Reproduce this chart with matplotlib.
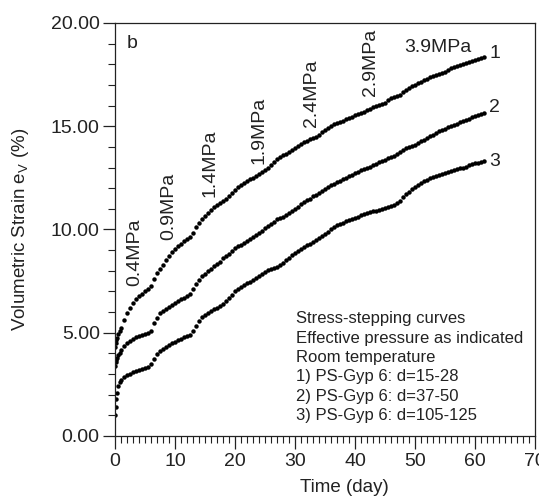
import matplotlib
matplotlib.use('Agg')
import matplotlib.pyplot as plt
from matplotlib.ticker import MultipleLocator, FormatStrFormatter

plt.rcParams['font.family'] = ['Liberation Sans', 'DejaVu Sans']

# sampling times (day)
days = [0, 0.1, 0.2, 0.3, 0.5, 0.75,
        1.0, 1.5, 2.0, 2.5, 3.0, 3.5, 4.0, 4.5, 5.0, 5.5,
        6.0, 6.5, 7.0, 7.5, 8.0, 8.5, 9.0, 9.5, 10.0, 10.5,
        11.0, 11.5, 12.0, 12.5, 13.0, 13.5, 14.0, 14.5, 15.0, 15.5,
        16.0, 16.5, 17.0, 17.5, 18.0, 18.5, 19.0, 19.5, 20.0, 20.5,
        21.0, 21.5, 22.0, 22.5, 23.0, 23.5, 24.0, 24.5, 25.0, 25.5,
        26.0, 26.5, 27.0, 27.5, 28.0, 28.5, 29.0, 29.5, 30.0, 30.5,
        31.0, 31.5, 32.0, 32.5, 33.0, 33.5, 34.0, 34.5, 35.0, 35.5,
        36.0, 36.5, 37.0, 37.5, 38.0, 38.5, 39.0, 39.5, 40.0, 40.5,
        41.0, 41.5, 42.0, 42.5, 43.0, 43.5, 44.0, 44.5, 45.0, 45.5,
        46.0, 46.5, 47.0, 47.5, 48.0, 48.5, 49.0, 49.5, 50.0, 50.5,
        51.0, 51.5, 52.0, 52.5, 53.0, 53.5, 54.0, 54.5, 55.0, 55.5,
        56.0, 56.5, 57.0, 57.5, 58.0, 58.5, 59.0, 59.5, 60.0, 60.5,
        61.0, 61.5]

# 1) PS-Gyp 6: d=15-28
strain_1 = [4.3, 4.5, 4.65, 4.75, 4.95, 5.1,
            5.25, 5.6, 5.95, 6.2, 6.45, 6.65, 6.8, 6.9, 7.0, 7.1,
            7.25, 7.6, 7.9, 8.1, 8.3, 8.5, 8.7, 8.9, 9.05, 9.2,
            9.3, 9.45, 9.55, 9.65, 9.85, 10.1, 10.3, 10.5, 10.65, 10.8,
            10.95, 11.1, 11.2, 11.3, 11.4, 11.5, 11.6, 11.75, 11.9, 12.05,
            12.15, 12.25, 12.35, 12.45, 12.5, 12.6, 12.7, 12.8, 12.9, 13.0,
            13.1, 13.25, 13.4, 13.5, 13.6, 13.65, 13.75, 13.85, 13.95, 14.05,
            14.15, 14.25, 14.3, 14.4, 14.45, 14.5, 14.6, 14.7, 14.8, 14.9,
            15.0, 15.1, 15.15, 15.2, 15.25, 15.35, 15.4, 15.45, 15.55, 15.6,
            15.65, 15.7, 15.8, 15.85, 15.95, 16.0, 16.05, 16.1, 16.15, 16.25,
            16.35, 16.4, 16.45, 16.5, 16.65, 16.75, 16.85, 16.95, 17.0, 17.1,
            17.15, 17.25, 17.3, 17.4, 17.45, 17.5, 17.55, 17.6, 17.65, 17.7,
            17.8, 17.85, 17.9, 17.95, 18.0, 18.05, 18.1, 18.15, 18.2, 18.25,
            18.3, 18.35]

# 2) PS-Gyp 6: d=37-50
strain_2 = [3.4, 3.6, 3.7, 3.8, 3.9, 4.0,
            4.15, 4.35, 4.5, 4.6, 4.7, 4.78, 4.85, 4.9, 4.95, 5.0,
            5.1, 5.45, 5.7, 5.95, 6.05, 6.15, 6.25, 6.35, 6.45, 6.55,
            6.65, 6.7, 6.8, 6.9, 7.1, 7.35, 7.55, 7.75, 7.85, 8.0,
            8.1, 8.25, 8.35, 8.45, 8.6, 8.7, 8.8, 8.95, 9.1, 9.2,
            9.25, 9.35, 9.45, 9.55, 9.65, 9.75, 9.85, 9.95, 10.05, 10.15,
            10.25, 10.35, 10.5, 10.55, 10.6, 10.7, 10.8, 10.9, 11.0, 11.1,
            11.25, 11.35, 11.45, 11.5, 11.6, 11.65, 11.75, 11.85, 11.95, 12.05,
            12.15, 12.2, 12.3, 12.35, 12.45, 12.5, 12.6, 12.65, 12.75, 12.8,
            12.9, 12.95, 13.0, 13.05, 13.1, 13.15, 13.25, 13.3, 13.35, 13.45,
            13.5, 13.55, 13.65, 13.75, 13.85, 13.95, 14.0, 14.05, 14.1, 14.2,
            14.3, 14.35, 14.45, 14.55, 14.6, 14.65, 14.75, 14.8, 14.85, 14.95,
            15.0, 15.05, 15.1, 15.2, 15.25, 15.3, 15.35, 15.45, 15.5, 15.55,
            15.6, 15.65]

# 3) PS-Gyp 6: d=105-125
strain_3 = [1.0, 1.4, 1.8, 2.1, 2.4, 2.6,
            2.7, 2.85, 2.95, 3.0, 3.1, 3.15, 3.2, 3.25, 3.3, 3.35,
            3.5, 3.75, 3.95, 4.1, 4.2, 4.3, 4.4, 4.5, 4.55, 4.65,
            4.7, 4.8, 4.85, 4.9, 5.1, 5.35, 5.55, 5.75, 5.85, 5.95,
            6.05, 6.15, 6.2, 6.3, 6.4, 6.55, 6.7, 6.85, 7.0, 7.1,
            7.2, 7.3, 7.4, 7.45, 7.55, 7.65, 7.75, 7.85, 7.95, 8.05,
            8.1, 8.15, 8.2, 8.3, 8.4, 8.5, 8.6, 8.75, 8.85, 8.95,
            9.05, 9.15, 9.25, 9.3, 9.4, 9.5, 9.6, 9.7, 9.8, 9.9,
            10.0, 10.1, 10.2, 10.25, 10.3, 10.4, 10.45, 10.5, 10.55, 10.6,
            10.7, 10.75, 10.8, 10.85, 10.9, 10.9, 10.95, 11.0, 11.05, 11.1,
            11.15, 11.2, 11.3, 11.4, 11.55, 11.7, 11.8, 11.95, 12.05, 12.15,
            12.25, 12.35, 12.4, 12.5, 12.55, 12.6, 12.65, 12.7, 12.75, 12.8,
            12.85, 12.9, 12.95, 13.0, 13.0, 13.05, 13.1, 13.15, 13.2, 13.2,
            13.25, 13.3]

pressure_labels = ['0.4MPa', '0.9MPa', '1.4MPa', '1.9MPa', '2.4MPa', '2.9MPa']
pressure_x = [3.35, 8.9, 15.9, 24.0, 32.7, 42.5]
pressure_y = [8.9, 11.1, 13.2, 14.8, 16.6, 18.1]

curve_names = ['1', '2', '3']
curve_label_y = [18.5, 15.9, 13.3]

info = ('Stress-stepping curves\n'
        'Effective pressure as indicated\n'
        'Room temperature\n'
        '1) PS-Gyp 6: d=15-28\n'
        '2) PS-Gyp 6: d=37-50\n'
        '3) PS-Gyp 6: d=105-125')

fig = plt.figure(figsize=(5.39, 5.0), dpi=100)
ax = fig.add_axes([0.2134, 0.128, 0.7792, 0.826])

for s in (strain_1, strain_2, strain_3):
    ax.plot(days, s, linestyle='none', marker='o', markersize=3.2,
            color='black', markeredgewidth=0)

ax.set_xlim(0, 70)
ax.set_ylim(0, 20)
ax.xaxis.set_major_locator(MultipleLocator(10))
ax.xaxis.set_minor_locator(MultipleLocator(1))
ax.yaxis.set_major_locator(MultipleLocator(5))
ax.yaxis.set_minor_locator(MultipleLocator(1))
ax.yaxis.set_major_formatter(FormatStrFormatter('%.2f'))
ax.tick_params(which='major', direction='out', length=9, width=0.9,
               labelsize=14, color='#222222', labelcolor='#222222')
ax.tick_params(which='minor', direction='out', length=5, width=0.8,
               color='#222222')
ax.tick_params(axis='y', pad=2)
for sp in ax.spines.values():
    sp.set_linewidth(0.9)
    sp.set_color('#222222')

ax.set_xlabel('Time (day)', fontsize=13.5, color='#222222')
ax.xaxis.set_label_coords(0.545, -0.105)
ax.set_ylabel('Volumetric Strain e$_\\mathregular{V}$ (%)', fontsize=13.5,
              color='#222222')
ax.yaxis.set_label_coords(-0.2, 0.5)

for lab, x, y in zip(pressure_labels, pressure_x, pressure_y):
    ax.text(x, y, lab, rotation=90, ha='center', va='center', fontsize=14,
            color='#222222')
ax.text(53.8, 18.8, '3.9MPa', ha='center', va='center', fontsize=14,
        color='#222222')

for name, y in zip(curve_names, curve_label_y):
    ax.text(63.3, y, name, ha='center', va='center', fontsize=14,
            color='#222222')

ax.text(2.85, 19.0, 'b', ha='center', va='center', fontsize=14,
        color='#222222')
ax.text(30.2, 6.05, info, ha='left', va='top', fontsize=12,
        linespacing=1.37, color='#222222')

fig.savefig('out.png', dpi=100)
